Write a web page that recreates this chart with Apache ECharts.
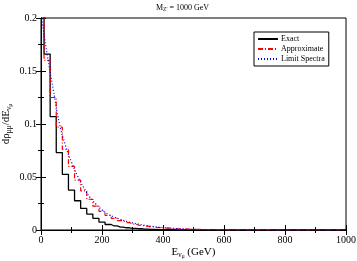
<!DOCTYPE html>
<html><head><meta charset="utf-8">
<script src="https://cdn.jsdelivr.net/npm/echarts@6/dist/echarts.min.js"></script>
<style>html,body{margin:0;padding:0;background:#fff}#c{width:357px;height:261px}</style>
</head><body><div id="c"></div>
<script>
var energies = [0,20,40,60,80,100,120,140,160,180,200,220,240,260,280,300,320,340,360,380,400,450,500,550,600,700,800,900,1000];
var exact = [0.26,0.166,0.107,0.073,0.0525,0.0377,0.0276,0.0204,0.015,0.011,0.0075,0.0052,0.0038,0.0028,0.0021,0.0016,0.0012,0.0009,0.0006,0.0004,0.0003,0.0001,0.00005,0.00002,0.00001,0,0,0,0];
var approximate = [0.22,0.16,0.125,0.097,0.076,0.06,0.047,0.037,0.029,0.0225,0.0175,0.0138,0.011,0.0088,0.007,0.0056,0.0045,0.0036,0.0029,0.0023,0.0018,0.001,0.0005,0.00025,0.00012,0.00003,0.00001,0,0];
var limitSpectra = [0.205,0.166,0.133,0.101,0.08,0.064,0.051,0.04,0.031,0.0245,0.019,0.015,0.0122,0.01,0.0082,0.0067,0.0055,0.0045,0.0036,0.0029,0.0023,0.0012,0.0006,0.0003,0.00015,0.00004,0.00001,0,0];
var seriesNames = ['Exact','Approximate','Limit Spectra'];
var xTicks = [0,200,400,600,800,1000];
var yTicks = [0,0.05,0.1,0.15,0.2];

function pairs(v){return energies.map(function(e,i){return [e,v[i]];});}
var font = 'Liberation Serif';
var chart = echarts.init(document.getElementById('c'));
var tickCommon = {inside:true,length:5,lineStyle:{color:'#000',width:1}};
var minorCommon = {show:true,splitNumber:2,length:3,lineStyle:{color:'#000',width:1}};
var nameRich = {m:{fontFamily:font,fontSize:11,color:'#000'},s:{fontFamily:font,fontSize:7.5,color:'#000',padding:[6,0,0,0]},ss:{fontFamily:font,fontSize:5.5,color:'#000',padding:[10,0,0,0]}};
chart.setOption({
  animation:false,
  backgroundColor:'#fff',
  title:{text:'{m|M}{s|Z\'}{m| = 1000 GeV}',left:151,top:-2,
    textStyle:{fontWeight:'normal',rich:{m:{fontFamily:font,fontSize:8,color:'#000',fontWeight:'normal'},s:{fontFamily:font,fontSize:5.5,color:'#000',fontWeight:'normal',padding:[4,0,0,0]}}}},
  grid:{left:41,right:11,top:18,bottom:31,show:true,borderColor:'#000',borderWidth:1,containLabel:false,outerBoundsMode:'none'},
  legend:{orient:'vertical',left:254,top:32,itemWidth:20,itemHeight:6,itemGap:2,
    padding:[3,4,3,3],borderColor:'#000',borderWidth:1,backgroundColor:'#fff',
    itemStyle:{opacity:0},
    textStyle:{fontFamily:font,fontSize:8,color:'#000',padding:[0,0,0,-2]},
    data:seriesNames},
  xAxis:[{type:'value',min:0,max:1000,interval:200,
    axisLine:{lineStyle:{color:'#000'}},axisTick:tickCommon,minorTick:minorCommon,splitLine:{show:false},
    axisLabel:{fontFamily:font,fontSize:10,color:'#000',margin:5,formatter:function(v){return String(v);}},
    name:'{m|E}{s|ν}{ss|μ}{m| (GeV)}',nameLocation:'middle',nameGap:14,nameMoveOverlap:false,
    nameTextStyle:{rich:nameRich}},
    {type:'value',position:'top',min:0,max:1000,interval:200,
    axisLine:{lineStyle:{color:'#000'}},axisTick:tickCommon,minorTick:minorCommon,splitLine:{show:false},axisLabel:{show:false}}],
  yAxis:[{type:'value',min:0,max:0.2,interval:0.05,
    axisLine:{lineStyle:{color:'#000'}},axisTick:tickCommon,minorTick:minorCommon,splitLine:{show:false},
    axisLabel:{fontFamily:font,fontSize:10,color:'#000',margin:4},
    name:'{m|dρ}{s|μμ}{m|/dE}{s|ν}{ss|μ}',nameLocation:'middle',nameGap:27,nameMoveOverlap:false,
    nameTextStyle:{rich:nameRich}},
    {type:'value',position:'right',min:0,max:0.2,interval:0.05,
    axisLine:{lineStyle:{color:'#000'}},axisTick:tickCommon,minorTick:minorCommon,splitLine:{show:false},axisLabel:{show:false}}],
  series:[
    {name:seriesNames[0],type:'line',step:'middle',data:pairs(exact),symbol:'none',clip:true,
      lineStyle:{color:'#000',width:1.3},itemStyle:{color:'#000'}},
    {name:seriesNames[1],type:'line',step:'middle',data:pairs(approximate),symbol:'none',clip:true,
      lineStyle:{color:'#ff0000',width:1.2,type:[5,2,1,2]},itemStyle:{color:'#ff0000'}},
    {name:seriesNames[2],type:'line',smooth:true,data:pairs(limitSpectra),symbol:'none',clip:true,
      lineStyle:{color:'#0000ff',width:1.2,type:[1,2]},itemStyle:{color:'#0000ff'}}
  ]
});
</script></body></html>
